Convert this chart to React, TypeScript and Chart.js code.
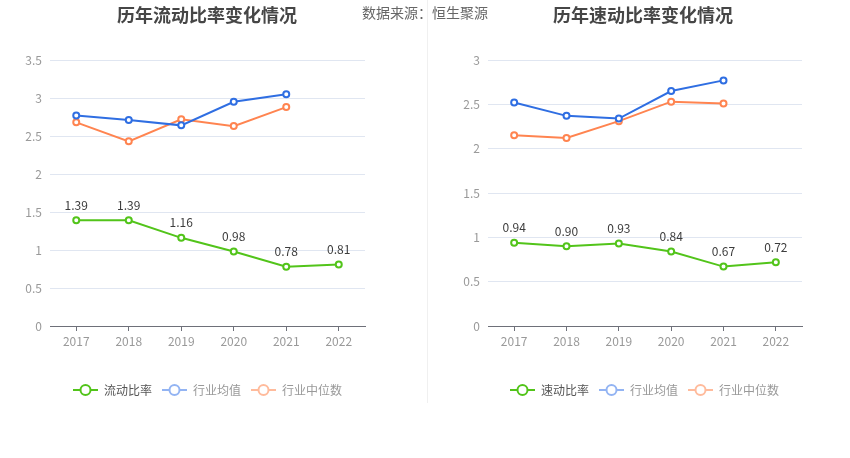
import React, { useEffect, useRef } from "react";
import { Chart, registerables } from "chart.js";

Chart.register(...registerables);

const years = ["2017", "2018", "2019", "2020", "2021", "2022"];

const currentRatio = [1.39, 1.39, 1.16, 0.98, 0.78, 0.81];
const currentIndustryAvg = [2.77, 2.71, 2.64, 2.95, 3.05, null];
const currentIndustryMedian = [2.68, 2.43, 2.72, 2.63, 2.88, null];

const quickRatio = [0.94, 0.9, 0.93, 0.84, 0.67, 0.72];
const quickIndustryAvg = [2.52, 2.37, 2.34, 2.65, 2.77, null];
const quickIndustryMedian = [2.15, 2.12, 2.31, 2.53, 2.51, null];

const FONT = '"Microsoft YaHei", "Noto Sans CJK SC", sans-serif';
const GREEN = "#52c41a";
const BLUE = "#2f6ee2";
const ORANGE = "#ff8450";

function makeIcon(color: string) {
  const c = document.createElement("canvas");
  c.width = 25;
  c.height = 14;
  const ctx = c.getContext("2d")!;
  ctx.strokeStyle = color;
  ctx.lineWidth = 2;
  ctx.beginPath();
  ctx.moveTo(0, 7);
  ctx.lineTo(25, 7);
  ctx.stroke();
  ctx.beginPath();
  ctx.arc(12.5, 7, 5, 0, Math.PI * 2);
  ctx.fillStyle = "#fff";
  ctx.fill();
  ctx.stroke();
  return c;
}

const valueLabels = {
  id: "valueLabels",
  afterDatasetsDraw(chart: any) {
    const ctx = chart.ctx;
    const meta = chart.getDatasetMeta(0);
    const data = chart.data.datasets[0].data as number[];
    ctx.save();
    ctx.font = `12px ${FONT}`;
    ctx.fillStyle = "#3c3c3c";
    ctx.textAlign = "center";
    ctx.textBaseline = "middle";
    meta.data.forEach((pt: any, i: number) => {
      ctx.fillText(data[i].toFixed(2), pt.x, pt.y - 15);
    });
    ctx.restore();
  },
};

const legendShift = {
  id: "legendShift",
  afterLayout(chart: any, _args: any, opts: any) {
    const lg = chart.legend;
    if (lg && opts && opts.dx) {
      lg.left += opts.dx;
      lg.right += opts.dx;
    }
  },
};

function makeConfig(
  name: string,
  main: number[],
  avg: (number | null)[],
  med: (number | null)[],
  yMax: number,
  yWidth: number,
  padRight: number,
  legendDx: number
): any {
  const icons = [makeIcon(GREEN), makeIcon("#93b4f3"), makeIcon("#ffbb9c")];
  const textColors = ["#555", "#999", "#999"];
  const ds = (label: string, data: any[], color: string) => ({
    label,
    data,
    borderColor: color,
    backgroundColor: "#fff",
    borderWidth: 2,
    pointRadius: 3,
    pointBorderWidth: 2,
    pointBackgroundColor: "#fff",
    pointBorderColor: color,
    tension: 0,
    spanGaps: false,
  });
  return {
    type: "line",
    data: {
      labels: years,
      datasets: [
        ds(name, main, GREEN),
        ds("行业均值", avg, BLUE),
        ds("行业中位数", med, ORANGE),
      ],
    },
    options: {
      animation: false,
      responsive: false,
      devicePixelRatio: 1,
      layout: { padding: { top: 60, left: 0, right: padRight, bottom: 52 } },
      plugins: {
        tooltip: { enabled: false },
        legendShift: { dx: legendDx },
        legend: {
          position: "bottom",
          labels: {
            usePointStyle: true,
            pointStyleWidth: 25,
            padding: 10,
            font: { family: FONT, size: 12 },
            generateLabels: (chart: any) =>
              chart.data.datasets.map((d: any, i: number) => ({
                text: d.label,
                pointStyle: icons[i],
                fontColor: textColors[i],
                fillStyle: "#fff",
                strokeStyle: d.borderColor,
                lineWidth: 0,
                hidden: false,
                datasetIndex: i,
              })),
          },
        },
        title: { display: false },
      },
      scales: {
        x: {
          type: "category",
          offset: true,
          grid: {
            drawOnChartArea: false,
            drawTicks: true,
            tickLength: 5,
            offset: false,
            color: "#6e7079",
          },
          border: { color: "#6e7079", width: 1 },
          ticks: {
            color: "#999",
            padding: 3,
            font: { family: FONT, size: 12 },
            maxRotation: 0,
          },
          afterFit: (s: any) => {
            s.height = 48;
          },
        },
        y: {
          min: 0,
          max: yMax,
          ticks: {
            stepSize: 0.5,
            color: "#999",
            padding: 8,
            font: { family: FONT, size: 12 },
            callback: (v: any) => String(v),
          },
          grid: { color: "#e0e6f1", drawTicks: false },
          border: { display: false },
          afterFit: (s: any) => {
            s.width = yWidth;
          },
        },
      },
    },
    plugins: [valueLabels, legendShift],
  };
}

function ChartCanvas({ config }: { config: () => any }) {
  const ref = useRef<HTMLCanvasElement>(null);
  useEffect(() => {
    const chart = new Chart(ref.current!, config());
    return () => chart.destroy();
  }, []);
  return <canvas ref={ref} width={425} height={458} style={{ display: "block" }} />;
}

export default function App() {
  useEffect(() => {
    document.body.style.margin = "0";
  }, []);
  const titleStyle: React.CSSProperties = {
    position: "absolute",
    top: 2,
    fontFamily: FONT,
    fontSize: 18,
    fontWeight: "bold",
    color: "#464646",
    whiteSpace: "nowrap",
    transform: "translateX(-50%)",
    lineHeight: "24px",
  };
  return (
    <div style={{ position: "relative", width: 850, height: 458, background: "#fff", overflow: "hidden" }}>
      <div style={{ position: "absolute", left: 0, top: 0 }}>
        <ChartCanvas
          config={() => makeConfig("流动比率", currentRatio, currentIndustryAvg, currentIndustryMedian, 3.5, 50, 60, 25)}
        />
      </div>
      <div style={{ position: "absolute", left: 425, top: 0 }}>
        <ChartCanvas
          config={() => makeConfig("速动比率", quickRatio, quickIndustryAvg, quickIndustryMedian, 3, 63, 48, 31)}
        />
      </div>
      <div style={{ position: "absolute", left: 427, top: 0, width: 1, height: 403, background: "#f0f0f0" }} />
      <div style={{ ...titleStyle, left: 207 }}>历年流动比率变化情况</div>
      <div style={{ ...titleStyle, left: 643 }}>历年速动比率变化情况</div>
      <div
        style={{
          position: "absolute",
          left: 362,
          top: 3,
          fontFamily: FONT,
          fontSize: 14,
          color: "#666",
          whiteSpace: "nowrap",
          lineHeight: "18px",
        }}
      >
        数据来源：恒生聚源
      </div>
    </div>
  );
}
